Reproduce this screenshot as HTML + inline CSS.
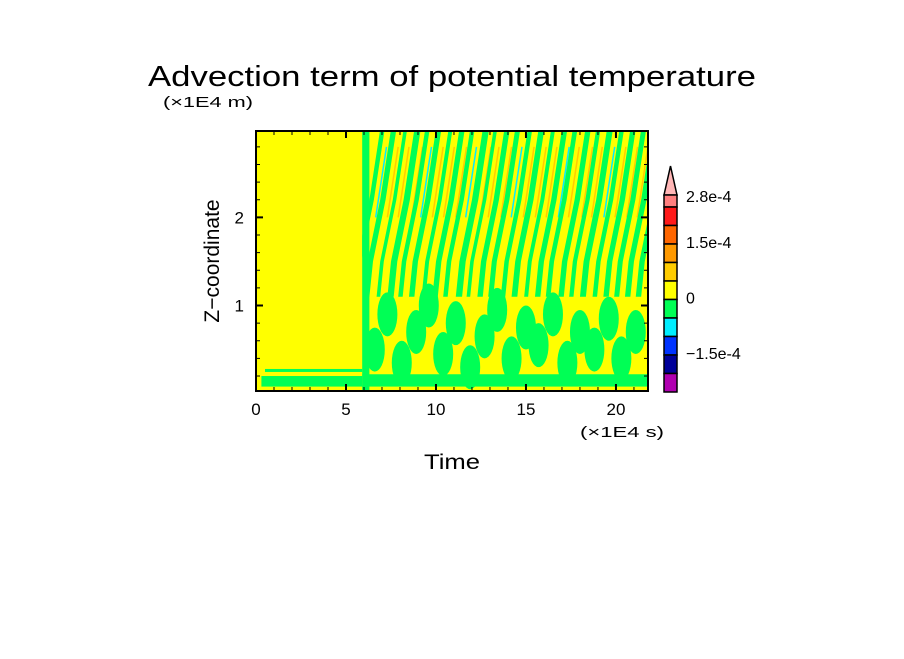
<!DOCTYPE html>
<html><head><meta charset="utf-8"><style>
body{margin:0;background:#fff;}
svg text{font-family:"Liberation Sans",sans-serif;fill:#000;}
</style></head><body>
<svg id="chart" width="904" height="654" viewBox="0 0 904 654" xmlns="http://www.w3.org/2000/svg">
<text x="148" y="86" font-size="29" textLength="608" lengthAdjust="spacingAndGlyphs">Advection term of potential temperature</text>
<text x="163" y="107" font-size="15" textLength="90" lengthAdjust="spacingAndGlyphs">(×1E4 m)</text>
<text x="580" y="437" font-size="15" textLength="84" lengthAdjust="spacingAndGlyphs">(×1E4 s)</text>
<text x="424" y="469" font-size="21" textLength="56" lengthAdjust="spacingAndGlyphs">Time</text>
<text transform="translate(219,261) rotate(-90)" font-size="21" text-anchor="middle">Z−coordinate</text>
<g id="field"></g>
<g id="axes"></g>
<g id="cbar"></g>
</svg>
<script>
const stripeTops=[6.9,7.5,8.2,8.8,9.4,10.0,10.7,11.3,11.9,12.6,13.2,13.8,14.4,15.1,15.7,16.4,17.0,17.6,18.3,18.9,19.5,20.2,20.8,21.4,22.0,22.6];
const stripeW=[0.25,0.3,0.2,0.35,0.25,0.3,0.22,0.3,0.25,0.35,0.2,0.3,0.28,0.25,0.32,0.22,0.3,0.26,0.3,0.24,0.33,0.25,0.3,0.28,0.3,0.3];
const blobX=[6.6,7.3,8.1,8.9,9.6,10.4,11.1,11.9,12.7,13.4,14.2,15.0,15.7,16.5,17.3,18.0,18.8,19.6,20.3,21.1];
const blobZ=[0.5,0.9,0.35,0.7,1.0,0.45,0.8,0.3,0.65,0.95,0.4,0.75,0.55,0.9,0.35,0.7,0.5,0.85,0.4,0.7];
const xTicks=[0,5,10,15,20];
const yTicks=[1,2];
const cbColors=["#ff7f7f","#ff1a1a","#ff6600","#ff9900","#ffcc00","#ffff00","#00ff55","#00eeff","#0033ff","#000099","#b000b0"];
const cbLabels=["2.8e-4","1.5e-4","0","−1.5e-4"];
const cbLabelIdx=[0,2.5,5.5,8.5];
const X0=256,X1=648,Y0=391,Y1=131,XMIN=0,XMAX=21.78,ZMIN=0.03,ZMAX=2.98;
const sx=v=>X0+(v-XMIN)/(XMAX-XMIN)*(X1-X0);
const sy=v=>Y0-(v-ZMIN)/(ZMAX-ZMIN)*(Y0-Y1);
const NS="http://www.w3.org/2000/svg";
function mk(t,a,p){const e=document.createElementNS(NS,t);for(const k in a)e.setAttribute(k,a[k]);p.appendChild(e);return e;}
const F=document.getElementById('field');
const bg=mk('rect',{x:X0,y:Y1,width:X1-X0,height:Y0-Y1,fill:'#ffff00'},F);


const clip=mk('clipPath',{id:'pc'},F);mk('rect',{x:sx(5.9),y:Y1,width:X1-sx(5.9),height:Y0-Y1},clip);
const G=mk('g',{'clip-path':'url(#pc)'},F);
stripeTops.forEach((t,i)=>{
  const w=stripeW[i];
  const pts=[[t,3],[t+w,3],[t+w-0.6,2.2],[t+w-1.3,1.5],[t+w-1.5,1.1],[t-1.5,1.1],[t-1.3,1.5],[t-0.6,2.2]];
  const p=mk('polygon',{points:pts.map(q=>sx(q[0])+','+sy(q[1])).join(' '),fill:'#00ff55'},G);
  
  
  const c=mk('line',{x1:sx(t+w+0.1),y1:sy(2.8),x2:sx(t+w-0.5),y2:sy(2.0),stroke:i%4==0?'#00eeff':'#ffcc00','stroke-width':1.5},G);
  
  
});
blobX.forEach((x,i)=>{
  const b=mk('ellipse',{cx:sx(x),cy:sy(blobZ[i]),rx:10,ry:22,fill:'#00ff55'},G);
  
  
});
const bot=mk('rect',{x:sx(5.9),y:sy(0.22),width:sx(21.8)-sx(5.9),height:sy(0.08)-sy(0.22),fill:'#00ff55'},G);


const wall=mk('rect',{x:sx(5.85),y:Y1,width:sx(6.3)-sx(5.85),height:Y0-Y1,fill:'#00ff55'},G);


const band=mk('rect',{x:sx(0.3),y:sy(0.2),width:sx(5.9)-sx(0.3),height:sy(0.08)-sy(0.2),fill:'#00ff55'},F);


const band2=mk('rect',{x:sx(0.5),y:sy(0.28),width:sx(5.9)-sx(0.5),height:3,fill:'#00ff55'},F);


const A=document.getElementById('axes');
const fr=mk('rect',{x:X0,y:Y1,width:X1-X0,height:Y0-Y1,fill:'none',stroke:'#000','stroke-width':2},A);


for(let v=0;v<=21;v++){const big=v%5==0;
  mk('line',{x1:sx(v),x2:sx(v),y1:Y0,y2:Y0-(big?7:4),stroke:'#000','stroke-width':big?2:1},A);
  mk('line',{x1:sx(v),x2:sx(v),y1:Y1,y2:Y1+(big?7:4),stroke:'#000','stroke-width':big?2:1},A);}
for(let k=1;k<=14;k++){const v=k*0.2,big=Math.abs(v-Math.round(v))<1e-6;
  mk('line',{x1:X0,x2:X0+(big?7:4),y1:sy(v),y2:sy(v),stroke:'#000','stroke-width':big?2:1},A);
  mk('line',{x1:X1,x2:X1-(big?7:4),y1:sy(v),y2:sy(v),stroke:'#000','stroke-width':big?2:1},A);}
xTicks.forEach(v=>{const t=mk('text',{x:sx(v),y:415,'font-size':17,'text-anchor':'middle'},A);t.textContent=v;
  
  });
yTicks.forEach(v=>{const t=mk('text',{x:244,y:sy(v)+6,'font-size':17,'text-anchor':'end'},A);t.textContent=v;
  
  });
const C=document.getElementById('cbar');
const cbX0=664,cbX1=677,cbTop=207,boxH=(392-207)/10;
const tri=mk('polygon',{points:`${cbX0},195 ${cbX1},195 ${(cbX0+cbX1)/2},166`,fill:'#ffb6b6',stroke:'#000','stroke-width':1.5},C);


cbColors.forEach((c,i)=>{
  const y=i==0?195:cbTop+(i-1)*boxH, h=i==0?12:boxH;
  const r=mk('rect',{x:cbX0,y:y,width:cbX1-cbX0,height:h,fill:c,stroke:'#000','stroke-width':1.5},C);
  
  
});
cbLabels.forEach((l,i)=>{
  const y=i==0?196:cbTop+(cbLabelIdx[i]-1)*boxH+boxH*0.5-2;
  const t=mk('text',{x:686,y:y+6,'font-size':16},C);t.textContent=l;
  
  
});
</script>
</body></html>
